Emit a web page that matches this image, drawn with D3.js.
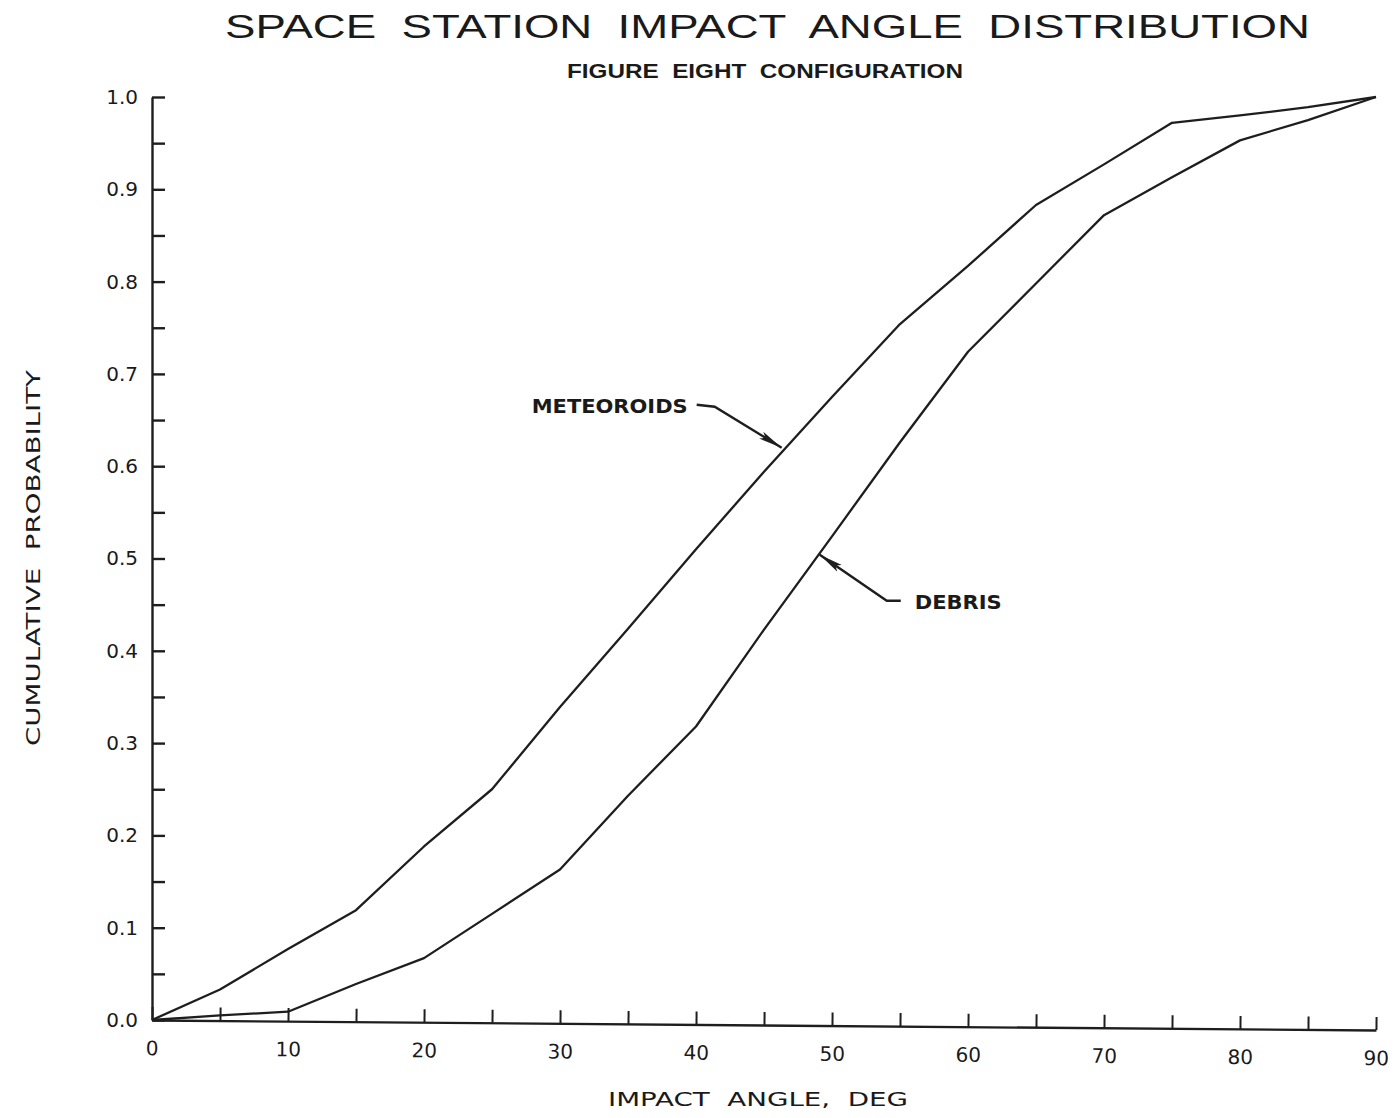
<!DOCTYPE html>
<html>
<head>
<meta charset="utf-8">
<script src="https://cdn.jsdelivr.net/npm/d3@7"></script>
<style>
  html, body { margin: 0; padding: 0; background: #fff; }
  svg { display: block; }
  text { fill: #1a1a1a; font-family: "DejaVu Sans", "Liberation Sans", sans-serif; white-space: pre; }
</style>
</head>
<body>
<svg id="chart" width="1394" height="1118"></svg>
<script>
// ---- data ----
const angles = [0, 5, 10, 15, 20, 25, 30, 35, 40, 45, 50, 55, 60, 65, 70, 75, 80, 85, 90];
const meteoroids = [0, 0.033, 0.077, 0.119, 0.188, 0.25, 0.339, 0.424, 0.51, 0.594, 0.675, 0.754, 0.817, 0.883, 0.927, 0.972, 0.980, 0.989, 1.0];
const debris = [0, 0.005, 0.009, 0.039, 0.067, 0.115, 0.163, 0.243, 0.318, 0.423, 0.524, 0.626, 0.724, 0.798, 0.872, 0.913, 0.953, 0.975, 1.0];
const xTickValues = [0, 5, 10, 15, 20, 25, 30, 35, 40, 45, 50, 55, 60, 65, 70, 75, 80, 85, 90];
const xTickLabels = ["0", "", "10", "", "20", "", "30", "", "40", "", "50", "", "60", "", "70", "", "80", "", "90"];
const yTickValues = [0, 0.05, 0.1, 0.15, 0.2, 0.25, 0.3, 0.35, 0.4, 0.45, 0.5, 0.55, 0.6, 0.65, 0.7, 0.75, 0.8, 0.85, 0.9, 0.95, 1.0];
const yTickLabels = ["0.0", "", "0.1", "", "0.2", "", "0.3", "", "0.4", "", "0.5", "", "0.6", "", "0.7", "", "0.8", "", "0.9", "", "1.0"];
const titleText = "SPACE  STATION  IMPACT  ANGLE  DISTRIBUTION";
const subtitleText = "FIGURE  EIGHT  CONFIGURATION";
const xLabelText = "IMPACT  ANGLE,  DEG";
const yLabelText = "CUMULATIVE  PROBABILITY";
// annotations: arrow tip in data units
const annoNames = ["METEOROIDS", "DEBRIS"];
const annoTips = [[46.3, 0.62], [49.1, 0.504]];

// ---- drawing ----
const svg = d3.select("#chart");
const ink = "#1e1e1e";
const x = d3.scaleLinear().domain([0, 90]).range([152, 1376]);
const y = d3.scaleLinear().domain([0, 1]).range([1020, 97]);

// title
svg.append("text")
  .attr("x", 225).attr("y", 38)
  .attr("xml:space", "preserve")
  .attr("textLength", 1085).attr("lengthAdjust", "spacingAndGlyphs")
  .style("font-family", "Liberation Sans")
  .style("font-size", "33px").style("font-weight", "normal")
  .text(titleText);
svg.append("text")
  .attr("x", 567).attr("y", 78)
  .attr("xml:space", "preserve")
  .attr("textLength", 396).attr("lengthAdjust", "spacingAndGlyphs")
  .style("font-family", "Liberation Sans")
  .style("font-size", "20px").style("font-weight", "bold")
  .text(subtitleText);

// y axis
const yAxis = d3.axisLeft(y)
  .tickValues(yTickValues)
  .tickFormat((d, i) => yTickLabels[i])
  .tickSizeInner(-13).tickSizeOuter(0).tickPadding(14);
const gy = svg.append("g").attr("transform", `translate(${x(0)},0)`).call(yAxis);
gy.select(".domain").attr("stroke", ink).attr("stroke-width", 2.4);
gy.selectAll(".tick line").attr("stroke", ink).attr("stroke-width", 2.4);
gy.selectAll(".tick text").style("font-size", "20px").style("font-family", "DejaVu Sans").attr("fill", ink);

// x axis (slightly skewed like the scanned original)
const tilt = Math.atan2(10, 1224) * 180 / Math.PI;
const xAxis = d3.axisBottom(x)
  .tickValues(xTickValues)
  .tickFormat((d, i) => xTickLabels[i])
  .tickSizeInner(-13).tickSizeOuter(0).tickPadding(21);
const gx = svg.append("g")
  .attr("transform", `translate(0,${y(0)}) rotate(${tilt},${x(0)},0)`)
  .call(xAxis);
gx.select(".domain").attr("stroke", ink).attr("stroke-width", 2.4);
gx.selectAll(".tick line").attr("stroke", ink).attr("stroke-width", 2);
gx.selectAll(".tick text").style("font-size", "20px").style("font-family", "DejaVu Sans").attr("fill", ink);

// axis titles
svg.append("text")
  .attr("x", 608).attr("y", 1106)
  .attr("xml:space", "preserve")
  .attr("textLength", 300).attr("lengthAdjust", "spacingAndGlyphs")
  .style("font-size", "20px")
  .text(xLabelText);
svg.append("text")
  .attr("transform", "translate(40,746) rotate(-90)")
  .attr("xml:space", "preserve")
  .attr("textLength", 376).attr("lengthAdjust", "spacingAndGlyphs")
  .style("font-size", "20px")
  .text(yLabelText);

// lines
const line = d3.line().x((d, i) => x(angles[i])).y(d => y(d));
[meteoroids, debris].forEach(series => {
  svg.append("path")
    .datum(series)
    .attr("d", line)
    .attr("fill", "none")
    .attr("stroke", ink)
    .attr("stroke-width", 2.3)
    .attr("stroke-linejoin", "round");
});

// arrowhead marker
svg.append("defs").append("marker")
  .attr("id", "arrow")
  .attr("viewBox", "0 0 24 10")
  .attr("refX", 24).attr("refY", 5)
  .attr("markerWidth", 24).attr("markerHeight", 10)
  .attr("markerUnits", "userSpaceOnUse")
  .attr("orient", "auto")
  .append("path")
  .attr("d", "M0,1 L24,5 L0,9 L5,5 Z")
  .attr("fill", ink);

// annotations
function annotate(name, tip, side) {
  const tx = x(tip[0]), ty = y(tip[1]);
  let knee, dashEnd, textX, anchor;
  if (side === "left") {
    knee = [tx - 67, ty - 41];
    dashEnd = [knee[0] - 18, knee[1] - 2];
    textX = dashEnd[0] - 9; anchor = "end";
  } else {
    knee = [tx + 67, ty + 46];
    dashEnd = [knee[0] + 14, knee[1]];
    textX = dashEnd[0] + 14; anchor = "start";
  }
  svg.append("path")
    .attr("d", `M${dashEnd[0]},${dashEnd[1]} L${knee[0]},${knee[1]} L${tx},${ty}`)
    .attr("fill", "none").attr("stroke", ink).attr("stroke-width", 2.4)
    .attr("marker-end", "url(#arrow)");
  svg.append("text")
    .attr("x", textX).attr("y", dashEnd[1] + 8)
    .attr("text-anchor", anchor)
    .style("font-size", "19px").style("font-weight", "bold")
    .attr("textLength", name.length > 7 ? 156 : 87)
    .attr("lengthAdjust", "spacingAndGlyphs")
    .text(name);
}
annotate(annoNames[0], annoTips[0], "left");
annotate(annoNames[1], annoTips[1], "right");
</script>
</body>
</html>
